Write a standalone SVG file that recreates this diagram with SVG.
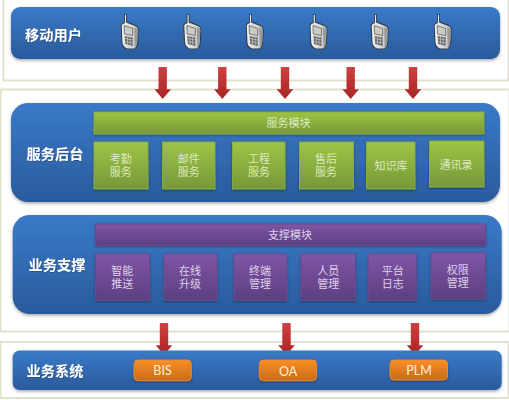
<svg xmlns="http://www.w3.org/2000/svg" width="509" height="400" viewBox="0 0 509 400">
<style>
text{font-family:"Noto Sans CJK SC","Liberation Sans",sans-serif;text-anchor:middle}
.panel{fill:#fff;stroke:#e3e0cd;stroke-width:2}
.blue{fill:url(#gb);filter:url(#sh)}
.green{fill:url(#gg);stroke:#8aab3c;stroke-width:1;filter:url(#ss)}
.purple{fill:url(#gp);stroke:#6d4a8f;stroke-width:1;filter:url(#ss)}
.orange{fill:url(#go);stroke:#e9892a;stroke-width:1;filter:url(#ss)}
.h{font-size:14.2px;font-weight:700;fill:#fff;filter:url(#ts)}
.t{font-size:11px;fill:#dde8bf}
.tp{font-size:11px;fill:#ddd0e6}
.b{font-size:12.500px;fill:#fdeede;font-family:Lato,"Liberation Sans",sans-serif}
</style>
<defs>
<linearGradient id="gb" x1="0" y1="0" x2="0" y2="1"><stop offset="0" stop-color="#3a7ac8"/><stop offset="1" stop-color="#2a5a9c"/></linearGradient>
<linearGradient id="gg" x1="0" y1="0" x2="0" y2="1"><stop offset="0" stop-color="#9dc544"/><stop offset="1" stop-color="#76983a"/></linearGradient>
<linearGradient id="gp" x1="0" y1="0" x2="0" y2="1"><stop offset="0" stop-color="#7f56a6"/><stop offset="1" stop-color="#5d3f80"/></linearGradient>
<linearGradient id="go" x1="0" y1="0" x2="0" y2="1"><stop offset="0" stop-color="#fb8f26"/><stop offset="1" stop-color="#c76a1a"/></linearGradient>
<linearGradient id="gr" x1="0" y1="0" x2="0" y2="1"><stop offset="0" stop-color="#cf4040"/><stop offset="1" stop-color="#a82426"/></linearGradient>
<linearGradient id="gph" x1="0" y1="0" x2="1" y2="0"><stop offset="0" stop-color="#f0f0f0"/><stop offset="1" stop-color="#c4c4c4"/></linearGradient>
<filter id="sh" x="-5%" y="-10%" width="110%" height="125%"><feDropShadow dx="0" dy="1.500" stdDeviation="1.500" flood-color="#000" flood-opacity=".35"/></filter>
<filter id="ss" x="-10%" y="-10%" width="120%" height="125%"><feDropShadow dx="0" dy="1" stdDeviation="1" flood-color="#000" flood-opacity=".35"/></filter>
<filter id="ts" x="-10%" y="-20%" width="120%" height="140%"><feDropShadow dx="0.500" dy="0.500" stdDeviation="0.500" flood-color="#000" flood-opacity=".4"/></filter>
<path id="arr" d="M-4.200 0H4.200V22.300H8.300L0 32L-8.300 22.300H-4.200Z" fill="url(#gr)"/>
<g id="phone">
<path d="M3.300 0H6.300V7.500L15 11Q18 12.500 18 15L17.500 28Q17 33 14.500 35.300H6Q1.500 33.500 .8 29L0 11.500Q0 9.500 3.300 8.300Z" fill="#2c3a44"/>
<path d="M4.200 .8H5.400V8.500L14.500 12Q17 13 17 15L16.500 28Q16 32 14 34.400H6.500Q2.500 33 1.800 29L1 11.500Q1 10 4.200 9Z" fill="url(#gph)"/>
<path d="M13.500 13L17 15L16.500 28Q16 32 14 34.400Z" fill="#9a9a9a"/>
<path d="M3.500 11.500L12 14.500V21.500L3.800 20Z" fill="#c9cdc2" stroke="#555" stroke-width=".7"/>
<path d="M4 22L12 23.500V32L4.500 30Z" fill="#666"/>
<path d="M4 24.500L12 26M4 27.500L12 29M6.800 22.500V31M9.400 23V31.500" stroke="#c8c8c8" stroke-width=".7" fill="none"/>
</g>
</defs>
<rect class="panel" x="3.500" y="-2" width="505" height="82.500"/>
<rect class="panel" x="0.500" y="89.500" width="509" height="242"/>
<rect class="panel" x="0.500" y="342" width="508" height="56"/>

<g id="mobile-users">
<rect class="blue" x="11" y="7" width="489" height="52" rx="9"/>
<text class="h" x="53.500" y="39.500">移动用户</text>
<use href="#phone" x="120.700" y="14"/><use href="#phone" x="183.300" y="14"/><use href="#phone" x="245.700" y="14"/><use href="#phone" x="309.500" y="14"/><use href="#phone" x="370.700" y="14"/><use href="#phone" x="433.700" y="14"/>
</g>

<g id="connectors">
<use href="#arr" x="162.700" y="67"/><use href="#arr" x="222.300" y="67"/><use href="#arr" x="285" y="67"/><use href="#arr" x="350.700" y="67"/><use href="#arr" x="413" y="67"/>
<use href="#arr" x="164" y="323"/><use href="#arr" x="286.500" y="323"/><use href="#arr" x="415" y="323"/>
</g>

<g id="service-backend">
<rect class="blue" x="11" y="103" width="489" height="99" rx="17"/>
<text class="h" x="55" y="158.500">服务后台</text>
</g>
<g id="service-module"><rect class="green" x="94" y="112" width="390" height="22"/><text class="t" x="288.500" y="127">服务模块</text></g>
<g id="s1"><rect class="green" x="94" y="142" width="54" height="47"/><text class="t"><tspan x="120.700" y="163.300">考勤</tspan><tspan x="120.700" y="176.300">服务</tspan></text></g>
<g id="s2"><rect class="green" x="162.500" y="142" width="52.500" height="47"/><text class="t"><tspan x="188.700" y="163.300">邮件</tspan><tspan x="188.700" y="176.300">服务</tspan></text></g>
<g id="s3"><rect class="green" x="232.500" y="142" width="52.500" height="47"/><text class="t"><tspan x="259" y="163.300">工程</tspan><tspan x="259" y="176.300">服务</tspan></text></g>
<g id="s4"><rect class="green" x="299.500" y="142" width="54" height="47"/><text class="t"><tspan x="326" y="163.300">售后</tspan><tspan x="326" y="176.300">服务</tspan></text></g>
<g id="s5"><rect class="green" x="366.500" y="142" width="48.500" height="47"/><text class="t" x="391" y="170">知识库</text></g>
<g id="s6"><rect class="green" x="429.500" y="141" width="54.500" height="46"/><text class="t" x="456" y="168.500">通讯录</text></g>

<g id="business-support">
<rect class="blue" x="12.700" y="215" width="489" height="99" rx="17"/>
<text class="h" x="57" y="270">业务支撑</text>
</g>
<g id="support-module"><rect class="purple" x="95.500" y="224" width="390" height="21.500"/><text class="tp" x="290" y="239">支撑模块</text></g>
<g id="p1"><rect class="purple" x="95.500" y="254" width="54" height="46.500"/><text class="tp"><tspan x="122.300" y="275">智能</tspan><tspan x="122.300" y="288.300">推送</tspan></text></g>
<g id="p2"><rect class="purple" x="164" y="254" width="53" height="46.500"/><text class="tp"><tspan x="190" y="275">在线</tspan><tspan x="190" y="288.300">升级</tspan></text></g>
<g id="p3"><rect class="purple" x="234" y="254" width="53" height="46.500"/><text class="tp"><tspan x="260" y="275">终端</tspan><tspan x="260" y="288.300">管理</tspan></text></g>
<g id="p4"><rect class="purple" x="301" y="254" width="54.300" height="46.500"/><text class="tp"><tspan x="328.300" y="275">人员</tspan><tspan x="328.300" y="288.300">管理</tspan></text></g>
<g id="p5"><rect class="purple" x="368.300" y="254" width="48" height="46.500"/><text class="tp"><tspan x="392.700" y="275">平台</tspan><tspan x="392.700" y="288.300">日志</tspan></text></g>
<g id="p6"><rect class="purple" x="431" y="252.700" width="54.300" height="46.300"/><text class="tp"><tspan x="457.700" y="273.700">权限</tspan><tspan x="457.700" y="287">管理</tspan></text></g>

<g id="business-systems">
<rect class="blue" x="12.700" y="350.500" width="489" height="39.500" rx="7"/>
<text class="h" x="55" y="376">业务系统</text>
</g>
<g id="bis"><rect class="orange" x="134" y="360" width="57.300" height="20.700" rx="4"/><text class="b" x="162.500" y="375">BIS</text></g>
<g id="oa"><rect class="orange" x="259.300" y="360" width="57.300" height="20.700" rx="4"/><text class="b" x="288" y="375.500">OA</text></g>
<g id="plm"><rect class="orange" x="390" y="360" width="57.500" height="20" rx="4"/><text class="b" x="419" y="375">PLM</text></g>
</svg>
